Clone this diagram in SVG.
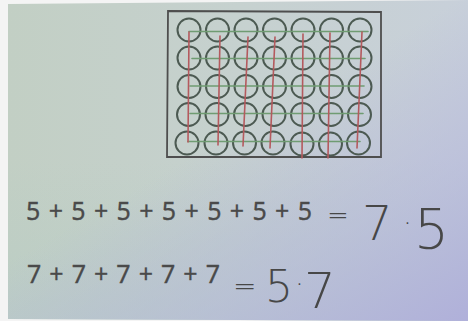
<svg xmlns="http://www.w3.org/2000/svg" width="468" height="321" viewBox="0 0 468 321">
<defs>
<linearGradient id="bg" x1="0" y1="0" x2="1" y2="0">
<stop offset="0" stop-color="#c2cfc4"/>
<stop offset="0.5" stop-color="#c6d1cf"/>
<stop offset="1" stop-color="#c8d0da"/>
</linearGradient>
<linearGradient id="lav" x1="0.5" y1="0.4" x2="1" y2="1">
<stop offset="0" stop-color="#b2b2dc" stop-opacity="0"/>
<stop offset="0.5" stop-color="#b4b6dc" stop-opacity="0.55"/>
<stop offset="1" stop-color="#b0b0da" stop-opacity="1"/>
</linearGradient>
<linearGradient id="bl" x1="0" y1="0" x2="0" y2="1">
<stop offset="0.5" stop-color="#b6ccc4" stop-opacity="0"/>
<stop offset="1" stop-color="#b6ccc4" stop-opacity="0.6"/>
</linearGradient>
</defs>
<style>
.c{fill:none;stroke:#4c5a52;stroke-width:2}
.g{stroke:#6f9c72;stroke-width:1.6;fill:none;stroke-linecap:round}
.r{stroke:#b45a5e;stroke-width:1.6;fill:none;stroke-linecap:round}
.t{font-family:"Noto Sans","Liberation Sans",sans-serif;font-size:25px;fill:#4a4a4a;stroke:#4a4a4a;stroke-width:0.3}
.h{font-family:"DejaVu Sans","Liberation Sans",sans-serif;font-weight:200;fill:#474747}
</style>
<rect width="468" height="321" fill="#f4f4f4"/>
<polygon points="8,4 468,0 468,321 8,319" fill="url(#bg)"/>
<polygon points="8,4 468,0 468,321 8,319" fill="url(#bl)"/>
<polygon points="8,4 468,0 468,321 8,319" fill="url(#lav)"/>

<g id="frame">
<polygon points="168,11 381,12 381,157 167,157" fill="none" stroke="#4e4e4e" stroke-width="1.8"/>
</g>

<g id="circles">
<circle class="c" cx="189" cy="30" r="11.5"/><circle class="c" cx="217.5" cy="30" r="11.5"/><circle class="c" cx="246" cy="30" r="11.5"/><circle class="c" cx="274.5" cy="30" r="11.5"/><circle class="c" cx="303" cy="30" r="11.5"/><circle class="c" cx="331.5" cy="30" r="11.5"/><circle class="c" cx="360" cy="30" r="11.5"/>
<circle class="c" cx="189" cy="58" r="11.5"/><circle class="c" cx="217.5" cy="58" r="11.5"/><circle class="c" cx="246" cy="58" r="11.5"/><circle class="c" cx="274.5" cy="58" r="11.5"/><circle class="c" cx="303" cy="58" r="11.5"/><circle class="c" cx="331.5" cy="58" r="11.5"/><circle class="c" cx="360" cy="58" r="11.5"/>
<circle class="c" cx="189" cy="86.5" r="11.5"/><circle class="c" cx="217.5" cy="86.5" r="11.5"/><circle class="c" cx="246" cy="86.5" r="11.5"/><circle class="c" cx="274.5" cy="86.5" r="11.5"/><circle class="c" cx="303" cy="86.5" r="11.5"/><circle class="c" cx="331.5" cy="86.5" r="11.5"/><circle class="c" cx="360" cy="86.5" r="11.5"/>
<circle class="c" cx="188.5" cy="114.5" r="11.5"/><circle class="c" cx="217" cy="114.5" r="11.5"/><circle class="c" cx="245.5" cy="114.5" r="11.5"/><circle class="c" cx="274" cy="114.5" r="11.5"/><circle class="c" cx="302.5" cy="114.5" r="11.5"/><circle class="c" cx="331" cy="114.5" r="11.5"/><circle class="c" cx="359.5" cy="114.5" r="11.5"/>
<circle class="c" cx="187" cy="143" r="11.5"/><circle class="c" cx="216" cy="143" r="11.5"/><circle class="c" cx="244.5" cy="143" r="11.5"/><circle class="c" cx="273" cy="143" r="11.5"/><circle class="c" cx="302" cy="144" r="11.5"/><circle class="c" cx="330.5" cy="144" r="11.5"/><circle class="c" cx="358.5" cy="143" r="11.5"/>
</g>

<g id="green-rows">
<line class="g" x1="189" y1="31.5" x2="368" y2="31.5"/>
<line class="g" x1="192" y1="58.5" x2="365" y2="58.5"/>
<line class="g" x1="190" y1="86" x2="364" y2="86"/>
<line class="g" x1="190" y1="113.5" x2="363" y2="113.5"/>
<line class="g" x1="188" y1="141.5" x2="360" y2="141.5"/>
</g>

<g id="red-columns">
<line class="r" x1="189" y1="32" x2="188" y2="142"/>
<line class="r" x1="220" y1="36" x2="218" y2="145"/>
<line class="r" x1="248" y1="37" x2="243" y2="146"/>
<line class="r" x1="275" y1="37" x2="270" y2="148"/>
<line class="r" x1="303" y1="34" x2="302" y2="158"/>
<line class="r" x1="330" y1="33" x2="328" y2="158"/>
<line class="r" x1="362" y1="32" x2="357" y2="148"/>
</g>

<g id="equation1">
<text class="t" x="26" y="220" textLength="286" lengthAdjust="spacing">5 + 5 + 5 + 5 + 5 + 5 + 5</text>
<text class="h" x="327" y="224" font-size="26">=</text>
<text class="h" x="362" y="240" font-size="48">7</text>
<text class="h" x="403" y="224" font-size="28" font-weight="400">.</text>
<text class="h" x="414" y="248" font-size="55">5</text>
</g>

<g id="equation2">
<text class="t" x="27" y="283" textLength="193" lengthAdjust="spacing">7 + 7 + 7 + 7 + 7</text>
<text class="h" x="233" y="295" font-size="28">=</text>
<text class="h" x="265" y="302" font-size="44">5</text>
<text class="h" x="295" y="294" font-size="28" font-weight="400">·</text>
<text class="h" x="304" y="308" font-size="50">7</text>
</g>
</svg>
